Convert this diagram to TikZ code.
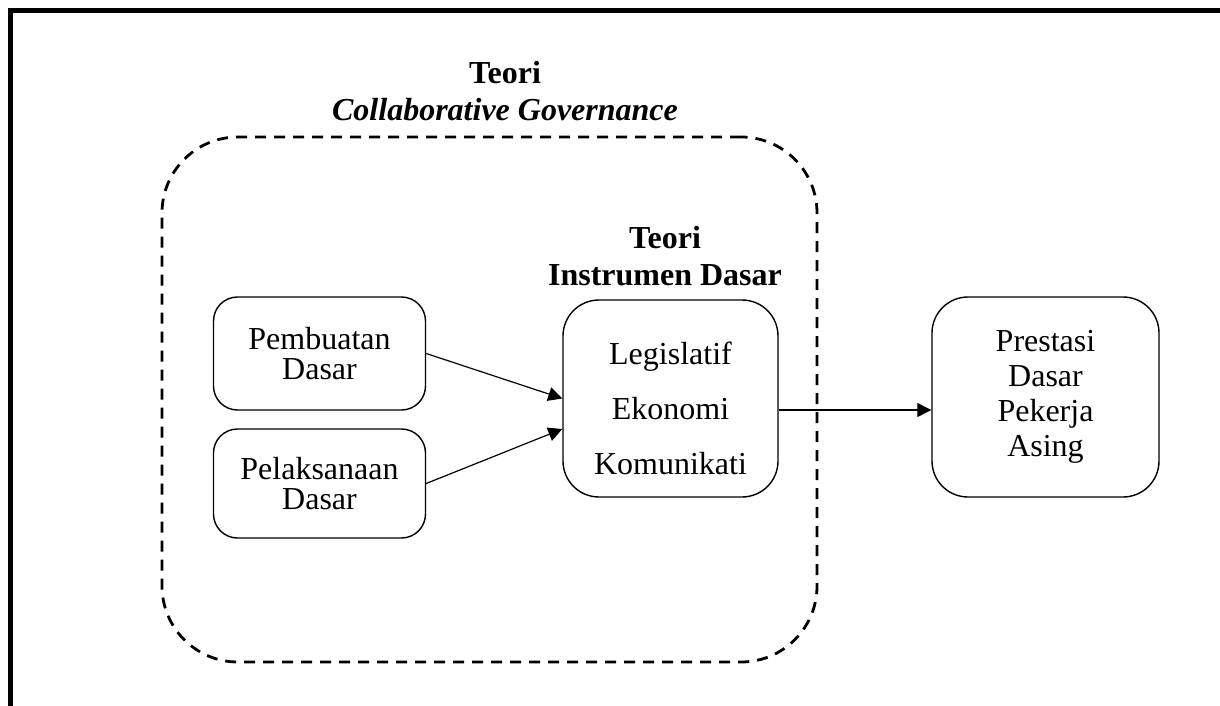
\documentclass[tikz,border=0pt]{standalone}
\usepackage{fontspec}
\setmainfont{Liberation Serif}
\usepackage{tikz}
\usetikzlibrary{arrows.meta, positioning}

\begin{document}
\begin{tikzpicture}[
    x=0.5pt, y=-0.5pt,
    box/.style={draw, line width=0.7pt, rounded corners=12pt, align=center,
                minimum width=106pt, font=\fontsize{16}{15}\selectfont},
    bigbox/.style={draw, line width=0.7pt, rounded corners=18pt, align=center},
    region/.style={draw, dashed, line width=1.4pt, dash pattern=on 5.5pt off 4pt,
                   rounded corners=38pt},
    title/.style={align=center, font=\fontsize{16}{18.5}\selectfont\bfseries},
    arrow/.style={-{Triangle[length=7pt, width=7pt]}, line width=0.6pt}
]
  \useasboundingbox (0,0) rectangle (1220,706);
  % Frame
  \draw[line width=2.2pt] (10.5,706) -- (10.5,10.5) -- (1220,10.5);

  % Regions and titles
  \node[region, minimum width=327.5pt, minimum height=262.5pt] (gov) at (489.5,399.5) {};
  \node[title] (govtitle) at (505,91) {Teori\\\textit{Collaborative Governance}};
  \node[title] (instrtitle) at (665,256) {Teori\\Instrumen Dasar};

  % Nodes
  \node[box, minimum height=56.5pt] (pembuatan) at (319.5,353.5) {Pembuatan\\Dasar};
  \node[box, minimum height=54.5pt] (pelaksanaan) at (319.5,483.5) {Pelaksanaan\\Dasar};
  \node[bigbox, minimum width=107.5pt, minimum height=98.5pt] (instr) at (670.5,398.5) {};
  \node[align=center, font=\fontsize{16}{27.5}\selectfont] (instrtext) at (670.5,408)
      {Legislatif\\Ekonomi\\Komunikati};
  \node[bigbox, minimum width=113.5pt, minimum height=100pt,
        font=\fontsize{16}{17.5}\selectfont] (prestasi) at (1045.5,397)
      {Prestasi\\Dasar\\Pekerja\\Asing};

  % Arrows
  \draw[arrow] (pembuatan.east) -- (instr.west);
  \draw[arrow] (pelaksanaan.east) -- ([yshift=-15.25pt]instr.west);
  \draw[arrow] ([yshift=-5.75pt]instr.east) -- ([yshift=-5.75pt]instr.east -| prestasi.west);
\end{tikzpicture}
\end{document}
